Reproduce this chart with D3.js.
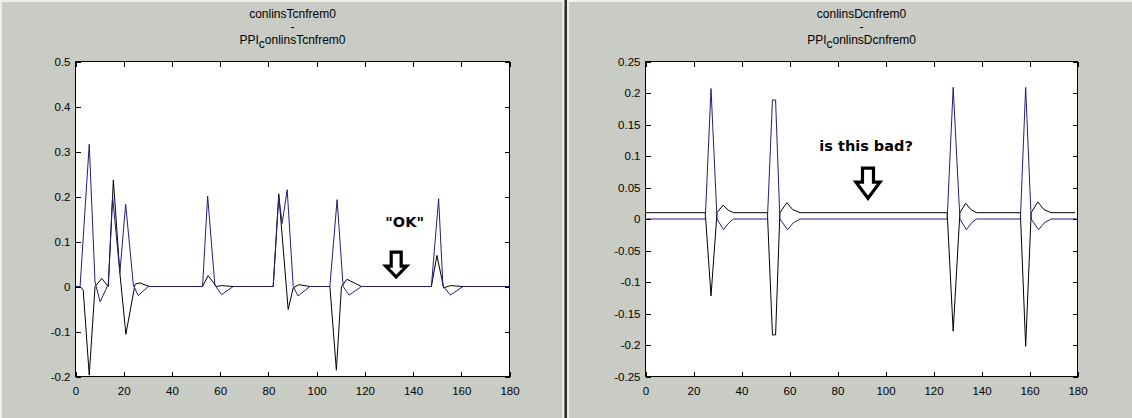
<!DOCTYPE html>
<html>
<head>
<meta charset="utf-8">
<script src="https://cdn.jsdelivr.net/npm/d3@7"></script>
<style>
  body { margin: 0; background: #c8ccc5; }
  svg { display: block; }
  .tick text { font-family: "Liberation Sans", Arial, sans-serif; font-size: 11.5px; fill: #000; }
  .title { font-family: "Liberation Sans", Arial, sans-serif; font-size: 12px; fill: #000; }
  .note { font-family: "DejaVu Sans", Verdana, sans-serif; font-size: 14.5px; font-weight: bold; fill: #000; }
</style>
</head>
<body>
<svg id="chart" width="1132" height="418"></svg>
<script>
/* Shared x ticks. */
const xTicks = [0, 20, 40, 60, 80, 100, 120, 140, 160, 180]

/* Left panel: tick values and labels. */
const leftYTicks = [-0.2, -0.1, 0, 0.1, 0.2, 0.3, 0.4, 0.5]
const leftYLabels = ["-0.2", "-0.1", "0", "0.1", "0.2", "0.3", "0.4", "0.5"]
const leftTitle = ["conlinsTcnfrem0", "-", "PPI", "c", "onlinsTcnfrem0"]

/* Left panel: blue series (breakpoints). */
const leftBlueX = [0, 1.9, 5.7, 8.1, 10.2, 13.6, 15.4, 18.4, 20.8, 24.0, 26.0, 30.2,
  52.7, 54.8, 57.8, 60.6, 65.4, 82.0, 84.3, 85.7, 87.8, 90.3, 92.3, 97.2,
  105.5, 108.5, 111.0, 113.5, 118.6, 147.6, 150.6, 152.4, 155.5, 160.7, 180]
const leftBlueY = [0, 0, 0.316, 0.01, -0.034, 0.005, 0.199, 0.03, 0.183, 0.003, -0.02, 0,
  0, 0.201, 0.003, -0.018, 0, 0, 0.2, 0.14, 0.215, 0, -0.021, 0,
  0, 0.193, 0, -0.019, 0, 0, 0.195, 0.001, -0.019, 0, 0]

/* Left panel: black series. */
const leftBlackX = [0, 1.9, 3.2, 5.7, 8.1, 10.9, 13.6, 15.7, 18.4, 20.9, 24.7, 26.7, 30.6,
  52.7, 55.0, 58.5, 60.6, 65.4, 82.0, 84.3, 88.2, 90.3, 92.7, 97.2,
  105.5, 108.2, 110.3, 112.6, 118.6, 147.6, 149.9, 152.7, 155.5, 160.7, 180]
const leftBlackY = [0, 0, -0.008, -0.197, 0, 0.018, 0, 0.237, 0.03, -0.106, 0.005, 0.008, 0,
  0, 0.024, 0, 0.002, 0, 0, 0.206, -0.051, -0.003, 0.004, 0,
  0, -0.186, 0, 0.016, 0, 0, 0.069, -0.003, 0.002, 0, 0]

/* Right panel: tick values and labels. */
const rightYTicks = [-0.25, -0.2, -0.15, -0.1, -0.05, 0, 0.05, 0.1, 0.15, 0.2, 0.25]
const rightYLabels = ["-0.25", "-0.2", "-0.15", "-0.1", "-0.05", "0", "0.05", "0.1", "0.15", "0.2", "0.25"]
const rightTitle = ["conlinsDcnfrem0", "-", "PPI", "c", "onlinsDcnfrem0"]

/* Right panel: blue series. */
const rightBlueX = [0, 24.9, 27.3, 29.8, 32.5, 34.8, 36.7, 50.8, 52.9, 54.2, 56.0, 59.2, 61.6, 64.4,
  125.7, 128.2, 131.0, 133.7, 135.9, 137.9, 156.2, 158.4, 160.7, 163.8, 166.2, 169, 180]
const rightBlueY = [0, 0, 0.207, 0, -0.017, -0.006, 0, 0, 0.189, 0.189, 0, -0.017, -0.006, 0,
  0, 0.209, 0, -0.017, -0.006, 0, 0, 0.209, 0, -0.017, -0.006, 0, 0]

/* Right panel: black series. */
const rightBlackX = [0, 24.9, 27.3, 29.8, 32.3, 34.5, 36.7, 50.8, 52.9, 54.2, 56.0, 58.9, 61.3, 64.4,
  125.7, 128.2, 131.0, 133.4, 135.6, 137.9, 156.2, 158.4, 160.7, 163.5, 166.0, 169, 179]
const rightBlackY = [0.01, 0.01, -0.122, 0.01, 0.022, 0.014, 0.01, 0.01, -0.184, -0.184, 0.01, 0.026, 0.015, 0.01,
  0.01, -0.178, 0.01, 0.025, 0.015, 0.01, 0.01, -0.202, 0.01, 0.027, 0.015, 0.01, 0.01]

/* Annotations, in data units. */
const leftNote = { text: "\"OK\"", x: 136.5, y: 0.132, arrowX: 133, arrowY: 0.021 }
const rightNote = { text: "is this bad?", x: 91.9, y: 0.108, arrowX: 92.7, arrowY: 0.033 }

const svg = d3.select("#chart")

/* Window decoration: light edges and the splitter between panels. */
svg.append("rect").attr("x", 0).attr("y", 0).attr("width", 1132).attr("height", 418).attr("fill", "#c8ccc5")
svg.append("rect").attr("x", 0).attr("y", 0).attr("width", 1132).attr("height", 2).attr("fill", "#eef0ea")
svg.append("rect").attr("x", 0).attr("y", 0).attr("width", 2).attr("height", 418).attr("fill", "#eef0ea")
svg.append("rect").attr("x", 562).attr("y", 0).attr("width", 2.5).attr("height", 418).attr("fill", "#e8e9e2")
svg.append("rect").attr("x", 564.5).attr("y", 0).attr("width", 2.5).attr("height", 418).attr("fill", "#2b2b2b")
svg.append("rect").attr("x", 567).attr("y", 0).attr("width", 2).attr("height", 418).attr("fill", "#eceee8")

/* Draw a block arrow pointing down, tip at (tx, ty). */
const drawArrow = (g, tx, ty, w, h, sw, hh) => {
  const p = d3.path()
  p.moveTo(tx - sw / 2, ty - h)
  p.lineTo(tx + sw / 2, ty - h)
  p.lineTo(tx + sw / 2, ty - hh)
  p.lineTo(tx + w / 2, ty - hh)
  p.lineTo(tx, ty)
  p.lineTo(tx - w / 2, ty - hh)
  p.lineTo(tx - sw / 2, ty - hh)
  p.closePath()
  g.append("path")
    .attr("d", p.toString())
    .attr("fill", "#fff")
    .attr("stroke", "#000")
    .attr("stroke-width", 3.2)
    .attr("stroke-linejoin", "miter")
}

/* One MATLAB-like panel. */
const drawPanel = (p) => {
  const g = svg.append("g")

  const x = d3.scaleLinear().domain([0, 180]).range([p.left, p.right])
  const y = d3.scaleLinear().domain(p.yDomain).range([p.bottom, p.top])

  /* Plot area. */
  g.append("rect")
    .attr("x", p.left).attr("y", p.top)
    .attr("width", p.right - p.left).attr("height", p.bottom - p.top)
    .attr("fill", "#fff")

  /* Series. */
  const line = d3.line().x(d => x(d[0])).y(d => y(d[1]))
  g.append("path")
    .attr("d", line(d3.zip(p.blackX, p.blackY)))
    .attr("fill", "none").attr("stroke", "#000").attr("stroke-width", 1)
  g.append("path")
    .attr("d", line(d3.zip(p.blueX, p.blueY)))
    .attr("fill", "none").attr("stroke", "#1f1f7a").attr("stroke-width", 1)

  /* Axes with inward ticks on all four sides. */
  const bottom = d3.axisBottom(x).tickValues(xTicks).tickSizeInner(-5).tickSizeOuter(0).tickPadding(10)
  const top = d3.axisTop(x).tickValues(xTicks).tickFormat("").tickSizeInner(-5).tickSizeOuter(0)
  const left = d3.axisLeft(y).tickValues(p.yTicks).tickFormat((d, i) => p.yLabels[i])
    .tickSizeInner(-5).tickSizeOuter(0).tickPadding(5)
  const right = d3.axisRight(y).tickValues(p.yTicks).tickFormat("").tickSizeInner(-5).tickSizeOuter(0)

  g.append("g").attr("transform", `translate(0,${p.bottom})`).call(bottom)
  g.append("g").attr("transform", `translate(0,${p.top})`).call(top)
  g.append("g").attr("transform", `translate(${p.left},0)`).call(left)
  g.append("g").attr("transform", `translate(${p.right},0)`).call(right)
  g.selectAll(".domain").remove()
  g.selectAll(".tick line").attr("stroke", "#000").attr("shape-rendering", "crispEdges")

  /* Box. */
  g.append("rect")
    .attr("x", p.left).attr("y", p.top)
    .attr("width", p.right - p.left).attr("height", p.bottom - p.top)
    .attr("fill", "none").attr("stroke", "#000").attr("shape-rendering", "crispEdges")

  /* Title, three lines, with a subscript on the last one. */
  const cx = (p.left + p.right) / 2
  g.append("text").attr("class", "title").attr("x", cx).attr("y", 17.5)
    .attr("text-anchor", "middle").text(p.title[0])
  g.append("text").attr("class", "title").attr("x", cx).attr("y", 31)
    .attr("text-anchor", "middle").text(p.title[1])
  const t3 = g.append("text").attr("class", "title").attr("x", cx).attr("y", 44)
    .attr("text-anchor", "middle")
  t3.append("tspan").text(p.title[2])
  t3.append("tspan").attr("dy", 4).text(p.title[3])
  t3.append("tspan").attr("dy", -4).text(p.title[4])

  /* Annotation text and arrow. */
  g.append("text").attr("class", "note")
    .attr("x", x(p.note.x)).attr("y", y(p.note.y))
    .attr("text-anchor", "middle").text(p.note.text)
  drawArrow(g, x(p.note.arrowX), y(p.note.arrowY), p.arrow[0], p.arrow[1], p.arrow[2], p.arrow[3])
}

drawPanel({
  left: 75.5, right: 509.5, top: 61.5, bottom: 376.5,
  yDomain: [-0.2, 0.5], yTicks: leftYTicks, yLabels: leftYLabels, title: leftTitle,
  blueX: leftBlueX, blueY: leftBlueY, blackX: leftBlackX, blackY: leftBlackY,
  note: leftNote, arrow: [21, 25, 10, 11]
})

drawPanel({
  left: 645.5, right: 1077.5, top: 61.5, bottom: 376.5,
  yDomain: [-0.25, 0.25], yTicks: rightYTicks, yLabels: rightYLabels, title: rightTitle,
  blueX: rightBlueX, blueY: rightBlueY, blackX: rightBlackX, blackY: rightBlackY,
  note: rightNote, arrow: [24, 30, 11, 16]
})
</script>
</body>
</html>
